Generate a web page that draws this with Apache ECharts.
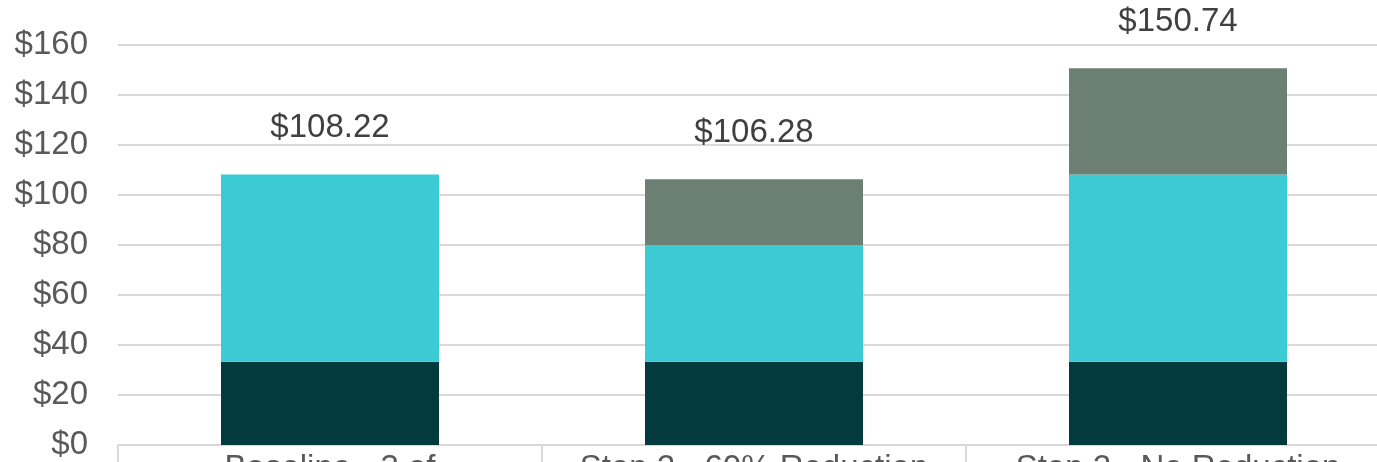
<!DOCTYPE html>
<html>
<head>
<meta charset="utf-8">
<script src="https://cdn.jsdelivr.net/npm/echarts@6/dist/echarts.min.js"></script>
<style>
  html, body { margin: 0; padding: 0; background: #fff; }
  #chart { width: 1377px; height: 462px; }
</style>
</head>
<body>
<div id="chart"></div>
<script>
// categories and stacked segment values ($)
const categories = ['Baseline - 3 of', 'Step 2 - 60% Reduction', 'Step 2 - No Reduction'];
const baseCost = [33.3, 33.3, 33.3];
const midCost = [74.92, 46.7, 74.92];
const topCost = [0, 26.28, 42.52];
const totals = [108.22, 106.28, 150.74];
const yTicks = [0, 20, 40, 60, 80, 100, 120, 140, 160];

const chart = echarts.init(document.getElementById('chart'));

const fontFamily = '"Liberation Sans", Arial, sans-serif';

chart.setOption({
  animation: false,
  grid: {
    left: 118,
    right: -13,
    top: 45,
    bottom: 17,
    containLabel: false,
    outerBoundsMode: 'none'
  },
  xAxis: {
    type: 'category',
    data: categories,
    axisLine: { lineStyle: { color: '#d9d9d9', width: 2 } },
    axisTick: { show: true, length: 20, lineStyle: { color: '#d9d9d9', width: 2 } },
    axisLabel: {
      interval: 0,
      hideOverlap: false,
      color: '#595959',
      fontSize: 33,
      fontFamily: fontFamily,
      margin: 7,
      lineHeight: 33
    }
  },
  yAxis: {
    type: 'value',
    min: yTicks[0],
    max: yTicks[yTicks.length - 1],
    interval: 20,
    axisLine: { show: false },
    axisTick: { show: false },
    axisLabel: {
      color: '#595959',
      fontSize: 33,
      fontFamily: fontFamily,
      margin: 30,
      formatter: v => '$' + v
    },
    splitLine: { lineStyle: { color: '#d9d9d9', width: 2 } }
  },
  series: [
    {
      name: 'Base',
      type: 'bar',
      stack: 'total',
      barWidth: 218,
      data: baseCost,
      itemStyle: { color: '#033a3e' }
    },
    {
      name: 'Middle',
      type: 'bar',
      stack: 'total',
      data: midCost,
      itemStyle: { color: '#3ccad4' }
    },
    {
      name: 'Top',
      type: 'bar',
      stack: 'total',
      data: topCost,
      itemStyle: { color: '#6b7f72' }
    },
    {
      // zero-height segment used only to carry the total label
      name: 'Total',
      type: 'bar',
      stack: 'total',
      data: totals.map(() => 0),
      itemStyle: { color: 'transparent' },
      label: {
        show: true,
        position: 'top',
        distance: 30,
        color: '#404040',
        fontSize: 33,
        fontFamily: fontFamily,
        formatter: p => '$' + totals[p.dataIndex].toFixed(2)
      }
    }
  ]
});
</script>
</body>
</html>
